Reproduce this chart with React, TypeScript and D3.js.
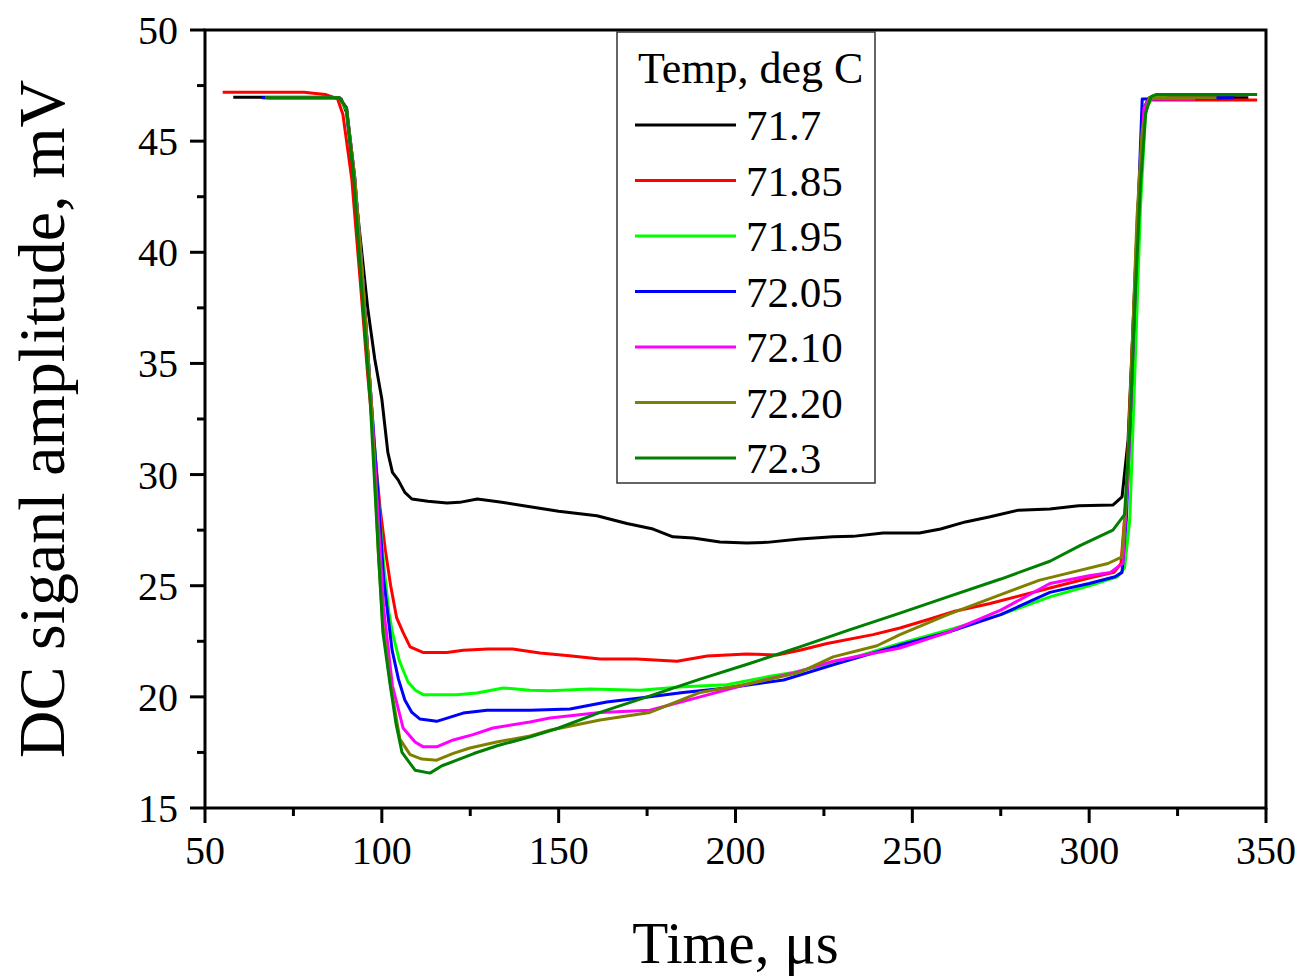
import React from "react";
import * as d3 from "d3";

type Pt = [number, number];

const xTicks = [50, 100, 150, 200, 250, 300, 350];
const yTicks = [15, 20, 25, 30, 35, 40, 45, 50];
const legendTitle = "Temp, deg C";
const seriesLabels = ["71.7", "71.85", "71.95", "72.05", "72.10", "72.20", "72.3"];
const seriesColors = ["#000000", "#ff0000", "#00ff00", "#0000ff", "#ff00ff", "#808000", "#008000"];

const s717: Pt[] = [[58,46.98],[70,46.98],[86,46.98],[88.5,46.9],[90,46.3],[92,43.5],[94,40.5],[96,37.5],[98,35.2],[100,33.4],[101.7,31.0],[103,30.1],[104.6,29.76],[106.5,29.2],[108.5,28.9],[113,28.8],[118.4,28.72],[122,28.75],[127,28.9],[133.4,28.77],[141.9,28.55],[150,28.35],[160.8,28.15],[169.3,27.8],[176.7,27.55],[182.3,27.2],[188,27.15],[195.6,26.97],[203.2,26.92],[208.9,26.95],[218.2,27.1],[227.6,27.2],[233.2,27.22],[241.7,27.37],[252,27.37],[258,27.55],[265,27.87],[272,28.1],[280,28.4],[288.9,28.45],[297,28.6],[306.7,28.63],[309.3,29.0],[311,31.55],[312.5,37],[314,42.5],[315.5,46.5],[317,46.95],[322,46.95],[345,46.95]];

const s7185: Pt[] = [[55,47.2],[78,47.2],[84,47.1],[87.5,46.9],[89,46.2],[91.5,43.3],[94,38.5],[96,34.5],[98,31],[99.5,28.5],[101,26.6],[102.5,25],[104.2,23.55],[106,22.9],[108,22.25],[111.6,22.0],[118.4,22.0],[123,22.1],[130,22.15],[137,22.15],[144.7,21.97],[153,21.85],[161.7,21.7],[172,21.7],[183.5,21.6],[192,21.84],[203.2,21.93],[211.7,21.88],[218.2,22.1],[225.9,22.4],[238.9,22.8],[246.5,23.1],[255,23.5],[262,23.85],[272,24.2],[288.9,24.9],[300,25.35],[307,25.6],[309,26],[310.5,29],[312,35],[313.5,41],[315,45.8],[316.5,46.85],[347.5,46.85]];

const s7195: Pt[] = [[68,46.95],[88,46.95],[90,46.4],[92.4,43.3],[94.5,39],[97,33.3],[99,29],[100.5,26],[102,23.8],[103,22.9],[105,21.6],[107.4,20.67],[109.5,20.3],[111.7,20.1],[121.2,20.1],[126.9,20.17],[134.3,20.4],[141.9,20.3],[147.5,20.27],[158.9,20.35],[173,20.3],[185.2,20.45],[197.6,20.55],[208.9,20.9],[216.3,21.1],[230,21.6],[246.5,22.4],[260,23.0],[275,23.7],[288.9,24.5],[300,25.0],[308,25.4],[310,25.8],[311.5,28],[313,35],[314.5,42],[316,46.5],[318,46.95],[322,46.95]];

const s7205: Pt[] = [[66,46.95],[88,46.95],[90,46.5],[92.3,43.4],[94.5,39],[97,33.3],[99,29],[100.5,25.3],[102.9,22.1],[104.7,20.8],[106.5,19.86],[108.5,19.3],[110.8,19.0],[115.5,18.9],[123,19.27],[129.7,19.4],[141.9,19.4],[153.2,19.45],[163.6,19.77],[173,19.95],[185.2,20.2],[197.6,20.4],[213.6,20.76],[227.6,21.44],[246.5,22.33],[260,22.9],[275,23.7],[288.9,24.7],[300,25.1],[307.3,25.4],[309.3,25.6],[310.5,28],[312,34],[313.5,40.5],[315,46.9],[341,46.95]];

const s7210: Pt[] = [[68,46.95],[88,46.95],[90,46.5],[92.3,43.4],[94.5,39],[97,33.3],[99,28],[100.5,24],[103,20.5],[106,18.6],[109.4,17.97],[111.7,17.75],[115.5,17.75],[120.2,18.06],[125.8,18.3],[131.4,18.6],[141.9,18.87],[147.5,19.05],[161.7,19.3],[175.8,19.4],[190,20.0],[204.1,20.6],[216.3,21.07],[227.6,21.6],[246.5,22.2],[260,22.9],[275,23.9],[288.9,25.1],[300,25.45],[306,25.6],[309.5,26.0],[311,30],[312.5,36],[314,42.5],[315.5,46.5],[317,46.9],[330,46.9]];

const s7220: Pt[] = [[67,46.95],[88,46.95],[90,46.5],[92.3,43.4],[94.5,39],[97,33.3],[99,26.5],[100.3,23.2],[102.5,20.5],[105.1,18.1],[108,17.4],[111.3,17.2],[115.5,17.15],[120.2,17.46],[124.9,17.7],[132.5,17.97],[141.9,18.24],[147.5,18.5],[161.7,18.96],[175.8,19.3],[190,20.2],[204.1,20.6],[218.2,21.1],[227.6,21.8],[240,22.3],[246.5,22.8],[260,23.7],[275,24.6],[286,25.25],[295,25.6],[305.3,26.0],[309.3,26.3],[310.5,29],[312,35],[313.5,41.5],[315,45.5],[317,46.95],[336,46.95]];

const s723: Pt[] = [[67,46.95],[88,46.95],[90,46.5],[92,43.5],[94,39],[96.7,33.35],[98.5,28],[100.3,22.9],[102.3,20.6],[104,18.8],[105.7,17.5],[109.4,16.7],[113.6,16.57],[117,16.9],[121.2,17.15],[126,17.45],[132.6,17.8],[142,18.2],[150,18.6],[161.7,19.3],[175,20.0],[190,20.8],[204,21.5],[218.2,22.25],[232,23.0],[246.5,23.77],[260,24.5],[275,25.3],[288.9,26.1],[297.4,26.8],[306.7,27.5],[310,28.2],[311.5,32],[313,38],[314.5,43],[316,46.3],[317.5,47.0],[319,47.1],[347.5,47.1]];

const seriesData: Pt[][] = [s717, s7185, s7195, s7205, s7210, s7220, s723];

const W = 1303;
const H = 976;
const L = 205, R = 1266, T = 30, B = 808;
const FONT = "'Liberation Serif', 'Times New Roman', serif";

export default function App() {
  const x = d3.scaleLinear().domain([50, 350]).range([L, R]);
  const y = d3.scaleLinear().domain([15, 50]).range([B, T]);
  const line = d3.line<Pt>().x((d) => x(d[0])).y((d) => y(d[1]));
  const xMinor = d3.range(75, 350, 50);
  const yMinor = d3.range(17.5, 50, 5);
  const legX = 617, legY = 32, legW = 258, legH = 451;
  const rowY0 = 125, rowStep = 55.5;

  return (
    <svg width={W} height={H} style={{ position: "absolute", left: 0, top: 0, background: "#fff" }} fontFamily={FONT}>
      <rect x={0} y={0} width={W} height={H} fill="#fff" />
      <defs>
        <clipPath id="plot">
          <rect x={L} y={T} width={R - L} height={B - T} />
        </clipPath>
      </defs>
      <g clipPath="url(#plot)">
        {seriesData.map((s, i) => (
          <path key={i} d={line(s) || ""} fill="none" stroke={seriesColors[i]} strokeWidth={3} strokeLinejoin="round" />
        ))}
      </g>
      <rect x={L} y={T} width={R - L} height={B - T} fill="none" stroke="#000" strokeWidth={3} />
      {xTicks.map((t) => (
        <g key={"xt" + t}>
          <line x1={x(t)} x2={x(t)} y1={B} y2={B + 15} stroke="#000" strokeWidth={3} />
          <text x={x(t)} y={B + 56} fontSize={40} textAnchor="middle" fill="#000">{t}</text>
        </g>
      ))}
      {xMinor.map((t) => (
        <line key={"xm" + t} x1={x(t)} x2={x(t)} y1={B} y2={B + 8} stroke="#000" strokeWidth={3} />
      ))}
      {yTicks.map((t) => (
        <g key={"yt" + t}>
          <line x1={L - 15} x2={L} y1={y(t)} y2={y(t)} stroke="#000" strokeWidth={3} />
          <text x={L - 27} y={y(t)} dy="0.35em" fontSize={40} textAnchor="end" fill="#000">{t}</text>
        </g>
      ))}
      {yMinor.map((t) => (
        <line key={"ym" + t} x1={L - 8} x2={L} y1={y(t)} y2={y(t)} stroke="#000" strokeWidth={3} />
      ))}
      <text x={(L + R) / 2} y={963} fontSize={59} textAnchor="middle" fill="#000">Time, μs</text>
      <text transform={`translate(64, ${(T + B) / 2}) rotate(-90)`} fontSize={66} textAnchor="middle" fill="#000">DC siganl amplitude, mV</text>
      <rect x={legX} y={legY} width={legW} height={legH} fill="#fff" stroke="#333" strokeWidth={1.5} />
      <text x={638} y={83} fontSize={44} fill="#000">{legendTitle}</text>
      {seriesLabels.map((lab, i) => (
        <g key={lab}>
          <line x1={635} x2={736} y1={rowY0 + i * rowStep} y2={rowY0 + i * rowStep} stroke={seriesColors[i]} strokeWidth={3} />
          <text x={746} y={rowY0 + i * rowStep + 15} fontSize={43} fill="#000">{lab}</text>
        </g>
      ))}
    </svg>
  );
}
